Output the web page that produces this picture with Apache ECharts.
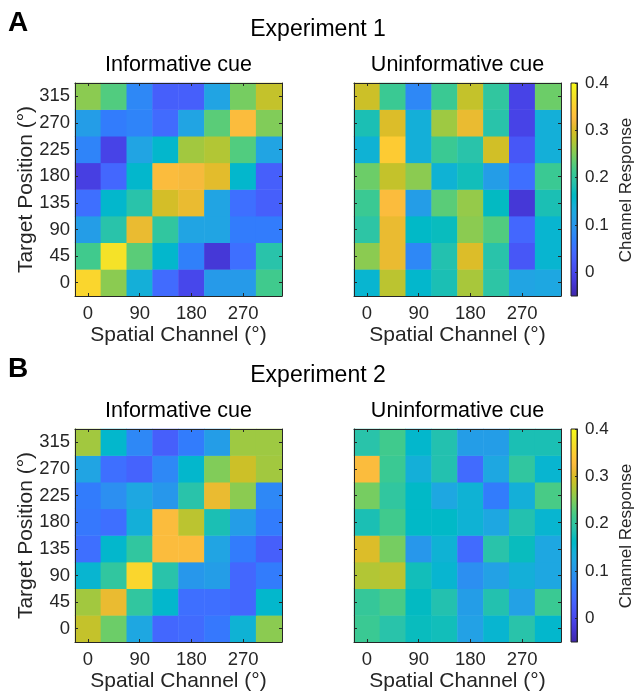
<!DOCTYPE html>
<html><head><meta charset="utf-8">
<script src="https://cdn.jsdelivr.net/npm/echarts@6/dist/echarts.min.js"></script>
<style>html,body{margin:0;padding:0;background:#fff}#c{width:634px;height:696px}</style>
</head><body><div id="c"></div>
<script>
// ---- data ----
const channels = ['0','45','90','135','180','225','270','315'];      // spatial channel (deg)
const targets  = ['0','45','90','135','180','225','270','315'];      // target position (deg)
// rows: target 0 .. 315 ; columns: channel 0 .. 315
const exp1Informative = [
  [0.357, 0.255, 0.14, 0.045, 0.0, 0.105, 0.105, 0.215],
  [0.215, 0.37, 0.23, 0.155, 0.07, -0.02, 0.05, 0.19],
  [0.11, 0.19, 0.31, 0.2, 0.12, 0.12, 0.065, 0.065],
  [0.05, 0.155, 0.19, 0.295, 0.31, 0.12, 0.05, 0.03],
  [-0.01, 0.04, 0.155, 0.325, 0.32, 0.305, 0.155, 0.03],
  [0.075, -0.005, 0.12, 0.155, 0.267, 0.275, 0.225, 0.12],
  [0.11, 0.065, 0.075, 0.045, 0.12, 0.23, 0.325, 0.25],
  [0.255, 0.225, 0.08, 0.03, 0.03, 0.12, 0.245, 0.285]
];
const exp1Uninformative = [
  [0.15, 0.28, 0.155, 0.18, 0.27, 0.195, 0.12, 0.125],
  [0.255, 0.31, 0.08, 0.185, 0.30, 0.19, 0.02, 0.15],
  [0.195, 0.31, 0.16, 0.17, 0.255, 0.225, 0.04, 0.15],
  [0.21, 0.325, 0.11, 0.23, 0.26, 0.165, -0.02, 0.18],
  [0.24, 0.285, 0.255, 0.145, 0.175, 0.11, 0.05, 0.21],
  [0.145, 0.345, 0.14, 0.21, 0.19, 0.293, 0.02, 0.14],
  [0.18, 0.30, 0.14, 0.265, 0.31, 0.19, -0.005, 0.14],
  [0.29, 0.21, 0.08, 0.21, 0.285, 0.2, -0.005, 0.24]
];
const exp2Informative = [
  [0.285, 0.24, 0.125, 0.04, 0.045, 0.06, 0.145, 0.255],
  [0.267, 0.31, 0.2, 0.155, 0.05, 0.05, 0.04, 0.155],
  [0.15, 0.2, 0.357, 0.19, 0.10, 0.11, 0.04, 0.065],
  [0.05, 0.155, 0.2, 0.325, 0.325, 0.12, 0.065, 0.03],
  [0.06, 0.05, 0.14, 0.325, 0.28, 0.18, 0.11, 0.065],
  [0.065, 0.09, 0.125, 0.10, 0.19, 0.31, 0.255, 0.08],
  [0.12, 0.05, 0.035, 0.08, 0.155, 0.25, 0.29, 0.267],
  [0.267, 0.155, 0.08, 0.03, 0.065, 0.11, 0.265, 0.265]
];
const exp2Uninformative = [
  [0.21, 0.19, 0.17, 0.175, 0.115, 0.15, 0.19, 0.155],
  [0.205, 0.22, 0.165, 0.185, 0.11, 0.185, 0.115, 0.21],
  [0.275, 0.28, 0.175, 0.15, 0.09, 0.115, 0.14, 0.125],
  [0.30, 0.245, 0.10, 0.145, 0.045, 0.19, 0.17, 0.125],
  [0.18, 0.215, 0.16, 0.16, 0.145, 0.125, 0.185, 0.15],
  [0.245, 0.2, 0.16, 0.125, 0.145, 0.065, 0.14, 0.22],
  [0.325, 0.21, 0.14, 0.185, 0.045, 0.125, 0.2, 0.15],
  [0.19, 0.215, 0.155, 0.185, 0.11, 0.11, 0.18, 0.18]
];
const colorMin = -0.05, colorMax = 0.4;
const colorbarTicks = [0, 0.1, 0.2, 0.3, 0.4];
const panelTitles = ['Informative cue', 'Uninformative cue'];
const experimentTitles = ['Experiment 1', 'Experiment 2'];
const panelLetters = ['A', 'B'];

// ---- parula colormap (style) ----
const parulaRGB = [
[0.2422,0.1504,0.6603],[0.2504,0.1650,0.7076],[0.2578,0.1818,0.7511],[0.2647,0.1978,0.7952],
[0.2706,0.2147,0.8364],[0.2751,0.2342,0.8710],[0.2783,0.2559,0.8991],[0.2803,0.2782,0.9221],
[0.2813,0.3006,0.9414],[0.2810,0.3228,0.9579],[0.2795,0.3447,0.9717],[0.2760,0.3667,0.9829],
[0.2699,0.3892,0.9906],[0.2602,0.4123,0.9952],[0.2440,0.4358,0.9988],[0.2206,0.4603,0.9973],
[0.1963,0.4847,0.9892],[0.1834,0.5074,0.9798],[0.1786,0.5289,0.9682],[0.1764,0.5499,0.9520],
[0.1687,0.5703,0.9359],[0.1540,0.5902,0.9218],[0.1460,0.6091,0.9079],[0.1380,0.6276,0.8973],
[0.1248,0.6459,0.8883],[0.1113,0.6635,0.8763],[0.0952,0.6798,0.8598],[0.0689,0.6948,0.8394],
[0.0297,0.7082,0.8163],[0.0036,0.7203,0.7917],[0.0067,0.7312,0.7660],[0.0433,0.7411,0.7394],
[0.0964,0.7500,0.7120],[0.1408,0.7584,0.6842],[0.1717,0.7670,0.6554],[0.1938,0.7758,0.6251],
[0.2161,0.7843,0.5923],[0.2470,0.7918,0.5567],[0.2906,0.7973,0.5188],[0.3406,0.8008,0.4789],
[0.3909,0.8029,0.4354],[0.4456,0.8024,0.3909],[0.5044,0.7993,0.3480],[0.5616,0.7942,0.3045],
[0.6174,0.7876,0.2612],[0.6720,0.7793,0.2227],[0.7242,0.7698,0.1910],[0.7738,0.7598,0.1646],
[0.8203,0.7498,0.1535],[0.8634,0.7406,0.1596],[0.9035,0.7330,0.1774],[0.9393,0.7288,0.2100],
[0.9728,0.7298,0.2394],[0.9956,0.7434,0.2371],[0.9970,0.7659,0.2199],[0.9952,0.7893,0.2028],
[0.9892,0.8136,0.1885],[0.9786,0.8386,0.1766],[0.9676,0.8639,0.1643],[0.9610,0.8890,0.1537],
[0.9597,0.9135,0.1423],[0.9628,0.9373,0.1265],[0.9691,0.9606,0.1064],[0.9769,0.9839,0.0805]];
const parula = parulaRGB.map(c => 'rgb(' + c.map(v => Math.round(v * 255)).join(',') + ')');

const FONT = 'Liberation Sans, Arial, Helvetica, sans-serif';
const AX = '#262626';
const PW = 207, PH = 213;
const panels = [
  { data: exp1Informative,   left: 75,  top: 83,  yLabels: true },
  { data: exp1Uninformative, left: 354, top: 83,  yLabels: false },
  { data: exp2Informative,   left: 75,  top: 429, yLabels: true },
  { data: exp2Uninformative, left: 354, top: 429, yLabels: false }
];
const colorbars = [{ left: 571, top: 83 }, { left: 571, top: 429 }];

const grid = [], xAxis = [], yAxis = [], series = [];
panels.forEach((p, i) => {
  grid.push({ left: p.left, top: p.top, width: PW, height: PH, show: false });
  const tick = { show: true, inside: true, length: 3, alignWithLabel: true, lineStyle: { color: AX, width: 1 } };
  const line = { show: true, onZero: false, lineStyle: { color: AX, width: 1 } };
  xAxis.push({ type: 'category', gridIndex: i, data: channels, position: 'bottom', z: 5,
    axisLine: line, axisTick: Object.assign({}, tick, { interval: 1 }),
    axisLabel: { interval: 1, margin: 8, fontSize: 18.5, color: AX, fontFamily: FONT },
    splitLine: { show: false } });
  xAxis.push({ type: 'category', gridIndex: i, data: channels, position: 'top', z: 5,
    axisLine: line, axisTick: Object.assign({}, tick, { interval: 1 }),
    axisLabel: { show: false }, splitLine: { show: false } });
  yAxis.push({ type: 'category', gridIndex: i, data: targets, position: 'left', z: 5,
    axisLine: line, axisTick: Object.assign({}, tick, { interval: 0 }),
    axisLabel: { show: p.yLabels, interval: 0, margin: 5, fontSize: 18.5, color: AX, fontFamily: FONT },
    splitLine: { show: false } });
  yAxis.push({ type: 'category', gridIndex: i, data: targets, position: 'right', z: 5,
    axisLine: line, axisTick: Object.assign({}, tick, { interval: 0 }),
    axisLabel: { show: false }, splitLine: { show: false } });
  const d = [];
  p.data.forEach((row, yi) => row.forEach((v, xi) => d.push([xi, yi, v])));
  series.push({ type: 'heatmap', xAxisIndex: 2 * i, yAxisIndex: 2 * i, data: d,
    itemStyle: { borderWidth: 0 }, emphasis: { disabled: true }, silent: true, progressive: 0 });
});
colorbars.forEach((c, k) => {
  const gi = panels.length + k;
  grid.push({ left: c.left, top: c.top, width: 6, height: PH, show: true,
    backgroundColor: new echarts.graphic.LinearGradient(0, 1, 0, 0,
      parula.map((col, j) => ({ offset: j / (parula.length - 1), color: col }))),
    borderColor: AX, borderWidth: 1 });
  xAxis.push({ type: 'category', gridIndex: gi, data: [''], show: false });
  yAxis.push({ type: 'value', gridIndex: gi, min: colorMin, max: colorMax, position: 'right', z: 5,
    axisLine: { show: true, lineStyle: { color: AX } },
    axisTick: { show: true, inside: true, length: 2, customValues: colorbarTicks, lineStyle: { color: AX } },
    axisLabel: { show: true, customValues: colorbarTicks, margin: 8, fontSize: 17, color: AX, fontFamily: FONT,
      formatter: v => String(v) },
    splitLine: { show: false } });
});

function txt(text, x, y, size, opts) {
  opts = opts || {};
  return { type: 'text', x: x, y: y, rotation: opts.rot || 0, z: 10,
    style: { text: text, font: (opts.bold ? 'bold ' : '') + size + 'px ' + FONT,
      fill: opts.color || '#000', textAlign: 'center', textVerticalAlign: 'middle',
      align: 'center', verticalAlign: 'middle' } };
}
const graphic = [];
[0, 1].forEach(r => {
  const dy = r * 346;
  graphic.push(txt(panelLetters[r], 18, 23 + dy, 28, { bold: true }));
  graphic.push(txt(experimentTitles[r], 318, 30 + dy, 23));
  graphic.push(txt(panelTitles[0], 178.5, 65 + dy, 21.5));
  graphic.push(txt(panelTitles[1], 457.5, 65 + dy, 21.5));
  graphic.push(txt('Spatial Channel (°)', 178.5, 335 + dy, 21, { color: AX }));
  graphic.push(txt('Spatial Channel (°)', 457.5, 335 + dy, 21, { color: AX }));
  graphic.push(txt('Target Position (°)', 26, 189.5 + dy, 21, { color: AX, rot: Math.PI / 2 }));
  graphic.push(txt('Channel Response', 626, 190 + dy, 17, { color: AX, rot: Math.PI / 2 }));
});

const chart = echarts.init(document.getElementById('c'), null, { renderer: 'canvas' });
chart.setOption({
  animation: false,
  backgroundColor: '#fff',
  grid: grid, xAxis: xAxis, yAxis: yAxis, series: series,
  visualMap: [{ type: 'continuous', show: false, min: colorMin, max: colorMax,
    seriesIndex: [0, 1, 2, 3], inRange: { color: parula } }],
  graphic: graphic
});
</script></body></html>
